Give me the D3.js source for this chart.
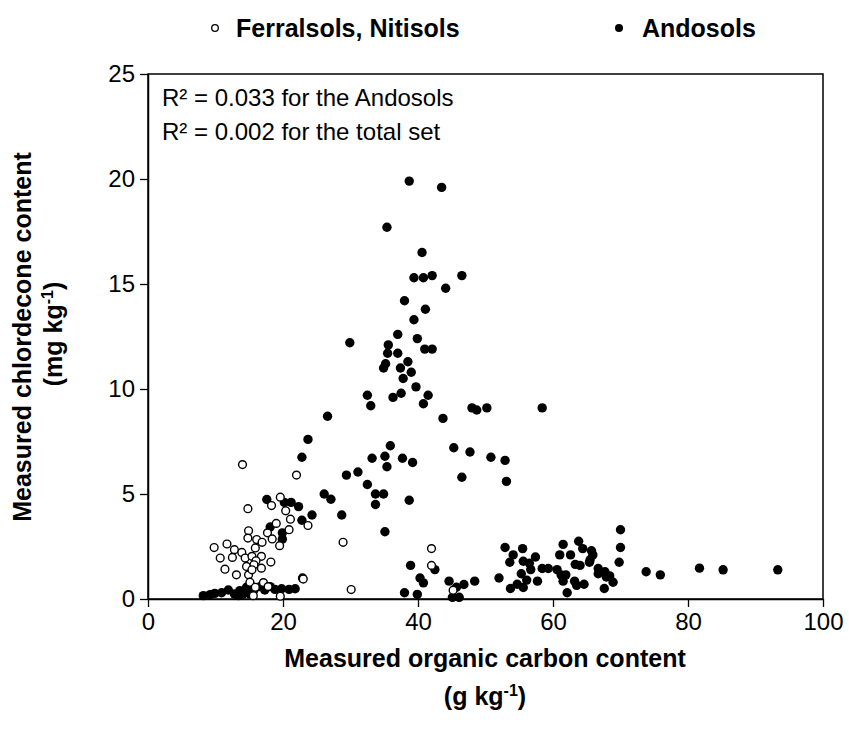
<!DOCTYPE html>
<html><head><meta charset="utf-8">
<script src="https://cdn.jsdelivr.net/npm/d3@7"></script>
<style>body{margin:0;background:#fff}svg{display:block}text{font-family:Arial,"Liberation Sans",sans-serif}</style>
</head><body><div id="chart"></div>
<script>
// Andosols (filled circles): organic carbon (g/kg), chlordecone (mg/kg)
const andoX = [38.7,43.5,35.4,40.6,39.4,40.8,42.1,46.5,44.1,38.0,41.1,39.4,37.0,39.9,29.9,35.6,35.5,37.0,41.0,42.1,38.5,35.2,34.9,37.4,39.0,37.8,39.7,32.5,36.3,37.5,41.5,40.8,33.0,48.0,48.7,50.2,58.4,26.6,43.7,23.7,35.9,45.3,47.7,
  22.8,33.2,35.1,35.4,37.7,39.2,50.8,52.9,46.5,53.1,29.4,31.1,32.5,33.7,34.9,33.7,38.7,26.1,27.1,28.7,35.1,24.3,22.8,22.3,
  17.6,20.2,21.2,18.1,19.9,19.9,22.9,
  8.2,9.2,9.9,10.9,11.9,12.8,13.6,14.6,15.3,15.7,16.6,17.3,18.1,18.8,19.8,20.9,21.8,14.1,15.1,13.4,
  42.5,38.9,40.3,40.8,38.0,39.9,44.6,45.7,46.8,48.4,45.1,46.1,
  52.0,52.9,54.1,55.5,53.6,55.6,56.5,57.4,56.7,55.3,56.1,57.7,53.7,55.6,54.7,58.4,59.3,
  61.5,61.0,62.6,63.8,64.4,65.7,65.9,65.5,63.3,64.0,65.4,60.6,61.2,61.9,61.5,63.2,63.5,64.6,62.1,66.7,66.7,67.7,67.9,68.9,67.6,68.4,
  70.0,70.0,69.8,73.8,75.9,81.7,85.2,93.3];
const andoY = [19.9,19.6,17.7,16.5,15.3,15.3,15.4,15.4,14.8,14.2,13.8,13.3,12.6,12.4,12.2,12.1,11.7,11.7,11.9,11.9,11.3,11.2,11.0,11.0,10.8,10.5,10.1,9.7,9.6,9.8,9.7,9.3,9.2,9.1,9.0,9.1,9.1,8.7,8.6,7.6,7.3,7.2,7.0,
  6.75,6.7,6.8,6.3,6.7,6.5,6.75,6.6,5.8,5.6,5.9,6.05,5.45,5.0,5.0,4.5,4.7,5.0,4.75,4.0,3.2,4.0,3.75,4.4,
  4.74,4.6,4.6,3.43,3.15,2.85,1.0,
  0.16,0.21,0.27,0.3,0.43,0.24,0.4,0.56,0.62,0.43,0.59,0.43,0.59,0.46,0.49,0.46,0.49,0.24,0.24,0.16,
  1.4,1.6,1.0,0.77,0.3,0.22,0.85,0.56,0.69,0.85,0.08,0.08,
  1.0,2.45,2.1,2.4,1.75,1.8,1.7,2.0,1.4,1.2,0.9,0.85,0.5,0.55,0.7,1.45,1.45,
  2.6,2.1,2.1,2.75,2.4,2.3,2.1,1.87,1.65,1.6,1.75,1.4,1.15,1.15,0.85,0.85,0.65,0.7,0.3,1.45,1.2,1.3,1.05,0.8,0.5,1.1,
  3.3,2.45,1.75,1.3,1.15,1.47,1.39,1.39];
// Ferralsols, Nitisols (open circles)
const ferrX = [14.0,22.0,19.6,14.8,18.3,20.4,21.1,19.0,17.7,18.4,19.5,20.9,14.9,14.8,16.1,16.9,15.9,16.8,11.7,9.8,12.8,13.9,10.7,12.5,14.4,15.4,16.0,11.4,14.6,15.7,16.8,18.2,13.1,14.9,15.4,15.1,17.1,15.6,19.6,17.8,15.9,23.0,23.7,28.9,42.0,42.0,45.2,30.1];
const ferrY = [6.4,5.9,4.85,4.3,4.45,4.2,3.8,3.6,3.15,2.86,2.54,3.3,3.25,2.9,2.83,2.7,2.43,2.03,2.62,2.45,2.35,2.22,1.95,1.98,1.95,2.03,1.82,1.42,1.55,1.63,1.47,1.76,1.15,1.15,1.39,0.8,0.78,0.16,0.13,0.59,0.56,0.95,3.5,2.7,2.4,1.6,0.42,0.45];
const xTicks = [0,20,40,60,80,100];
const yTicks = [0,5,10,15,20,25];
const legendLabels = ["Ferralsols, Nitisols","Andosols"];
const annot = ["R\u00B2 = 0.033 for the Andosols","R\u00B2 = 0.002 for the total set"];

const W = 849, H = 738;
const svg = d3.select("#chart").append("svg").attr("width",W).attr("height",H);
const x = d3.scaleLinear().domain([0,100]).range([148,823]);
const y = d3.scaleLinear().domain([0,25]).range([599,74]);

// frame
svg.append("rect").attr("x",x(0)).attr("y",y(25)).attr("width",x(100)-x(0)).attr("height",y(0)-y(25))
  .attr("fill","none").attr("stroke","#000").attr("stroke-width",1.5);

const xa = svg.append("g").attr("transform",`translate(0,${y(0)})`)
  .call(d3.axisBottom(x).tickValues(xTicks).tickSize(8).tickSizeOuter(0).tickPadding(6));
const ya = svg.append("g").attr("transform",`translate(${x(0)},0)`)
  .call(d3.axisLeft(y).tickValues(yTicks).tickSize(8).tickSizeOuter(0).tickPadding(5));
[xa,ya].forEach(a=>{
  a.select(".domain").attr("stroke","#000").attr("stroke-width",1.5);
  a.selectAll(".tick line").attr("stroke","#000").attr("stroke-width",1.3);
  a.selectAll(".tick text").attr("font-size",24).attr("fill","#000").attr("font-family","Arial, 'Liberation Sans', sans-serif");
});

// points
svg.append("g").selectAll("circle").data(andoX.map((v,i)=>[v,andoY[i]])).join("circle")
  .attr("cx",d=>x(d[0])).attr("cy",d=>y(d[1])).attr("r",4.7).attr("fill","#000");
svg.append("g").selectAll("circle").data(ferrX.map((v,i)=>[v,ferrY[i]])).join("circle")
  .attr("cx",d=>x(d[0])).attr("cy",d=>y(d[1])).attr("r",3.9).attr("fill","#fff").attr("stroke","#000").attr("stroke-width",1.4);

// annotation
annot.forEach((t,i)=>svg.append("text").attr("x",162).attr("y",106+i*34).attr("font-size",24).text(t));

// legend
svg.append("circle").attr("cx",215).attr("cy",28).attr("r",3.3).attr("fill","#fff").attr("stroke","#000").attr("stroke-width",1.3);
svg.append("text").attr("x",236).attr("y",37).attr("font-size",25).attr("font-weight","bold").text(legendLabels[0]);
svg.append("circle").attr("cx",619).attr("cy",28).attr("r",4).attr("fill","#000");
svg.append("text").attr("x",642).attr("y",37).attr("font-size",25).attr("font-weight","bold").text(legendLabels[1]);

// axis titles
svg.append("text").attr("x",485).attr("y",667).attr("text-anchor","middle").attr("font-size",25).attr("font-weight","bold").text("Measured organic carbon content");
const xt2 = svg.append("text").attr("x",485).attr("y",705).attr("text-anchor","middle").attr("font-size",25).attr("font-weight","bold");
xt2.append("tspan").text("(g kg");
xt2.append("tspan").attr("dy",-9).attr("font-size",16).text("-1");
xt2.append("tspan").attr("dy",9).text(")");

const yt = svg.append("g").attr("transform","translate(31,337) rotate(-90)");
yt.append("text").attr("text-anchor","middle").attr("font-size",25).attr("font-weight","bold").text("Measured chlordecone content");
const yt2 = svg.append("g").attr("transform","translate(62,334) rotate(-90)").append("text").attr("text-anchor","middle").attr("font-size",25).attr("font-weight","bold");
yt2.append("tspan").text("(mg kg");
yt2.append("tspan").attr("dy",-9).attr("font-size",16).text("-1");
yt2.append("tspan").attr("dy",9).text(")");
</script></body></html>
